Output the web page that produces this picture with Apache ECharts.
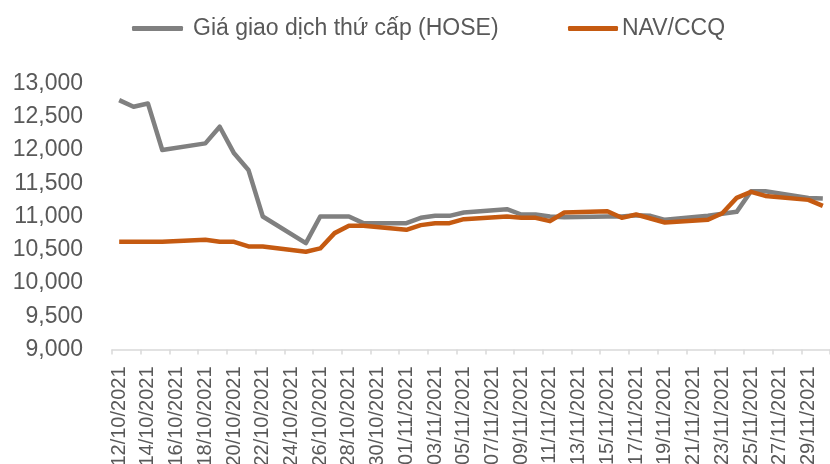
<!DOCTYPE html>
<html>
<head>
<meta charset="utf-8">
<script src="https://cdn.jsdelivr.net/npm/echarts@6/dist/echarts.min.js"></script>
<style>
html,body{margin:0;padding:0;background:#fff;}
#chart{width:830px;height:464px;}
</style>
</head>
<body>
<div id="chart"></div>
<script>
const categories = [
  "12/10/2021","13/10/2021","14/10/2021","15/10/2021","16/10/2021","17/10/2021",
  "18/10/2021","19/10/2021","20/10/2021","21/10/2021","22/10/2021","23/10/2021",
  "24/10/2021","25/10/2021","26/10/2021","27/10/2021","28/10/2021","29/10/2021",
  "30/10/2021","31/10/2021","01/11/2021","02/11/2021","03/11/2021","04/11/2021",
  "05/11/2021","06/11/2021","07/11/2021","08/11/2021","09/11/2021","10/11/2021",
  "11/11/2021","12/11/2021","13/11/2021","14/11/2021","15/11/2021","16/11/2021",
  "17/11/2021","18/11/2021","19/11/2021","20/11/2021","21/11/2021","22/11/2021",
  "23/11/2021","24/11/2021","25/11/2021","26/11/2021","27/11/2021","28/11/2021",
  "29/11/2021","30/11/2021"
];
const seriesNames = ["Giá giao dịch thứ cấp (HOSE)", "NAV/CCQ"];
const hosePrice = [
  12750,12650,12700,12000,null,null,
  12100,12350,11950,11700,11000,null,
  null,10600,11000,11000,11000,10900,
  null,null,10900,10980,11010,11010,
  11060,null,null,11110,11030,11030,
  11000,10990,null,null,11000,11000,
  11020,11010,10950,null,null,11010,
  11040,11070,11380,11380,null,null,
  11280,11270
];
const navPerUnit = [
  10620,10620,10620,10620,null,null,
  10650,10620,10620,10550,10550,null,
  null,10470,10520,10750,10860,10860,
  null,null,10800,10870,10900,10900,
  10960,null,null,11000,10980,10980,
  10930,11060,null,null,11080,10980,
  11030,10970,10910,null,null,10950,
  11050,11280,11370,11310,null,null,
  11250,11160
];
const yMin = 9000, yMax = 13000, yStep = 500;

const FONT = "'Liberation Sans', Arial, sans-serif";
const TXT = '#595959';
const chart = echarts.init(document.getElementById('chart'), null, {renderer: 'canvas'});
chart.setOption({
  animation: false,
  backgroundColor: '#ffffff',
  textStyle: {fontFamily: FONT},
  legend: [
    {
      data: [seriesNames[0]],
      left: 127, top: 12,
      itemWidth: 51, itemHeight: 5, itemGap: 0,
      icon: 'roundRect',
      textStyle: {fontFamily: FONT, fontSize: 23, color: TXT, padding: [0,0,0,5]}
    },
    {
      data: [seriesNames[1]],
      left: 563, top: 12,
      itemWidth: 50, itemHeight: 5, itemGap: 0,
      icon: 'roundRect',
      textStyle: {fontFamily: FONT, fontSize: 23, color: TXT, padding: [0,0,0,-1]}
    }
  ],
  grid: {left: 112, right: 0, top: 83.5, bottom: 114.5, containLabel: false, outerBoundsMode: 'none'},
  xAxis: {
    type: 'category',
    data: categories,
    boundaryGap: true,
    axisLine: {show: true, lineStyle: {color: '#d9d9d9', width: 1.5}},
    axisTick: {show: true, interval: 1, length: 5, lineStyle: {color: '#d9d9d9', width: 1.5}},
    axisLabel: {interval: 1, rotate: 90, margin: 17, fontFamily: FONT, fontSize: 20, color: TXT},
    splitLine: {show: false}
  },
  yAxis: {
    type: 'value',
    min: yMin, max: yMax, interval: yStep,
    axisLine: {show: false},
    axisTick: {show: false},
    splitLine: {show: false},
    axisLabel: {
      margin: 29, fontFamily: FONT, fontSize: 23, color: TXT,
      formatter: v => v.toLocaleString('en-US')
    }
  },
  series: [
    {
      name: seriesNames[0], type: 'line', data: hosePrice,
      connectNulls: true, symbol: 'none', smooth: false,
      itemStyle: {color: '#808080'},
      lineStyle: {color: '#808080', width: 4.5, join: 'round'}
    },
    {
      name: seriesNames[1], type: 'line', data: navPerUnit,
      connectNulls: true, symbol: 'none', smooth: false,
      itemStyle: {color: '#C55A11'},
      lineStyle: {color: '#C55A11', width: 4.5, join: 'round'}
    }
  ]
});
</script>
</body>
</html>
